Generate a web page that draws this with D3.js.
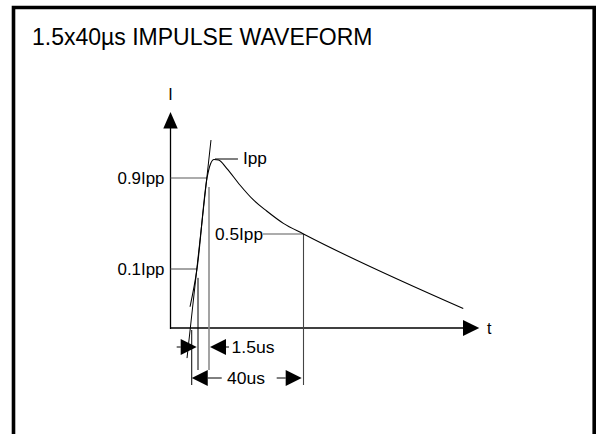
<!DOCTYPE html>
<html>
<head>
<meta charset="utf-8">
<script src="https://cdn.jsdelivr.net/npm/d3@7"></script>
<style>
  html, body { margin: 0; padding: 0; background: #fff; }
  svg { display: block; }
  text { font-family: "Liberation Sans", Arial, sans-serif; fill: #000; }
</style>
</head>
<body>
<svg id="chart" width="597" height="434"></svg>
<script>
// ---------------- data (schematic impulse waveform, time in µs, current as fraction of Ipp) ----------------
const title = "1.5x40µs IMPULSE WAVEFORM";

// waveform: rising front, rounded peak, decaying tail
const waveTime    = [-0.71, -0.09, 1.23, 2.11, 3.54, 5.37, 8.71, 14.1, 19.6, 25.0, 31.8, 40.0];
const waveCurrent = [0.036, 0.10, 0.90, 0.974, 0.997, 0.995, 0.951, 0.85, 0.743, 0.664, 0.576, 0.50];
// straight tail segment
const tailTime    = [93.4];
const tailCurrent = [0.033];

// front line through the 10% and 90% points (extended)
const frontTime    = [-0.98, 2.31];
const frontCurrent = [-0.051, 1.121];

// level marks on the current axis
const levelLabels  = ["0.9Ipp", "0.1Ipp"];
const levelValues  = [0.9, 0.1];
const levelEndTime = [1.23, -0.09];

// reference levels annotated on the curve
const peakLabel = "Ipp";
const peakTime = [3.94, 13.3];
const halfLabel = "0.5Ipp";
const halfTime = [23.5, 40.0];

// time marks (extension lines)
const virtualOrigin = -0.56;
const frontStart = 0;
const frontTimeValue = 1.5;
const halfValueTime = 40;

// dimension labels
const dimLabels = ["1.5us", "40us"];

const axisLabels = ["I", "t"];

// ---------------- scales (schematic, piecewise linear) ----------------
const x = d3.scaleLinear().domain([-2.5, 0, 1.5, 40, 100]).range([170, 198, 209, 303.5, 483]);
const y = d3.scaleLinear().domain([0, 0.1, 0.5, 0.9, 1, 1.3]).range([328, 269, 234, 178, 159, 112]);

const svg = d3.select("#chart");

// frame (open at the bottom)
svg.append("path")
  .attr("d", "M13.5,440 V7.5 H594.2 V440")
  .attr("fill", "none").attr("stroke", "#000").attr("stroke-width", 3.6);

// title
svg.append("text").attr("x", 32).attr("y", 45)
  .style("font-size", "23px").text(title);

const g = svg.append("g");
const grey = "#5a5a5a";

// axes
const x0 = x(-2.5), yAxisX = x(-2.5) + 0.5, y0 = y(0);
g.append("line").attr("x1", yAxisX).attr("x2", yAxisX).attr("y1", y0 + 1).attr("y2", y(1.3) + 14)
  .attr("stroke", "#000").attr("stroke-width", 1.3);
g.append("path")
  .attr("d", `M${yAxisX},${y(1.3)} L${yAxisX + 7.2},${y(1.3) + 16.5} L${yAxisX - 7.2},${y(1.3) + 16.5} Z`)
  .attr("fill", "#000");
g.append("line").attr("x1", x0).attr("x2", x(100) - 18).attr("y1", y0).attr("y2", y0)
  .attr("stroke", "#000").attr("stroke-width", 1.3);
g.append("path")
  .attr("d", `M${x(100) - 3.7},${y0} L${x(100) - 20},${y0 - 8} L${x(100) - 20},${y0 + 8} Z`)
  .attr("fill", "#000");
g.append("text").attr("x", yAxisX).attr("y", 100).attr("text-anchor", "middle")
  .style("font-size", "16px").text(axisLabels[0]);
g.append("text").attr("x", x(100) + 4).attr("y", y0 + 6)
  .style("font-size", "16px").text(axisLabels[1]);

// level leaders + labels
levelValues.forEach((v, i) => {
  g.append("line").attr("x1", yAxisX).attr("x2", x(levelEndTime[i]))
    .attr("y1", y(v)).attr("y2", y(v)).attr("stroke", grey).attr("stroke-width", 1.1);
  g.append("text").attr("x", yAxisX - 6).attr("y", y(v) + 6).attr("text-anchor", "end")
    .style("font-size", "16px").attr("textLength", 47).attr("lengthAdjust", "spacingAndGlyphs")
    .text(levelLabels[i]);
});

// Ipp leader
g.append("line").attr("x1", x(peakTime[0])).attr("x2", x(peakTime[1]))
  .attr("y1", y(1)).attr("y2", y(1)).attr("stroke", "#000").attr("stroke-width", 1);
g.append("text").attr("x", x(peakTime[1]) + 5).attr("y", y(1) + 5)
  .style("font-size", "16px").attr("textLength", 24).attr("lengthAdjust", "spacingAndGlyphs")
  .text(peakLabel);

// 0.5 Ipp leader
g.append("line").attr("x1", x(halfTime[0])).attr("x2", x(halfTime[1]))
  .attr("y1", y(0.5)).attr("y2", y(0.5)).attr("stroke", grey).attr("stroke-width", 1.1);
g.append("text").attr("x", x(halfTime[0])).attr("y", y(0.5) + 6).attr("text-anchor", "end")
  .style("font-size", "16px").attr("textLength", 48).attr("lengthAdjust", "spacingAndGlyphs")
  .text(halfLabel);

// extension lines
g.append("line").attr("x1", x(virtualOrigin)).attr("x2", x(virtualOrigin))
  .attr("y1", y0 + 2).attr("y2", 385).attr("stroke", "#000").attr("stroke-width", 1);
g.append("line").attr("x1", x(frontStart)).attr("x2", x(frontStart))
  .attr("y1", y(0.085)).attr("y2", 370).attr("stroke", "#000").attr("stroke-width", 1);
g.append("line").attr("x1", x(frontTimeValue)).attr("x2", x(frontTimeValue))
  .attr("y1", y(0.836)).attr("y2", 370).attr("stroke", "#8c8c8c").attr("stroke-width", 1.6);
g.append("line").attr("x1", x(halfValueTime)).attr("x2", x(halfValueTime))
  .attr("y1", y(0.5)).attr("y2", 385).attr("stroke", "#444").attr("stroke-width", 1.1);

// front line
const line = d3.line().x(d => x(d[0])).y(d => y(d[1]));
g.append("path").datum(d3.zip(frontTime, frontCurrent)).attr("d", line)
  .attr("fill", "none").attr("stroke", "#000").attr("stroke-width", 1);

// waveform (front, peak, decay and tail as one smooth path)
const wave = d3.zip(waveTime.concat(tailTime), waveCurrent.concat(tailCurrent));
g.append("path").datum(wave)
  .attr("d", d3.line().x(d => x(d[0])).y(d => y(d[1])).curve(d3.curveMonotoneX))
  .attr("fill", "none").attr("stroke", "#000").attr("stroke-width", 1.1);

// dimension arrows
function arrow(tipX, cy, dir, tail) {
  // dir = +1 pointing right, -1 pointing left
  const len = 16, half = 8;
  g.append("path")
    .attr("d", `M${tipX},${cy} L${tipX - dir * len},${cy - half} L${tipX - dir * len},${cy + half} Z`)
    .attr("fill", "#000");
  g.append("line").attr("x1", tipX - dir * len).attr("x2", tipX - dir * (len + tail))
    .attr("y1", cy).attr("y2", cy).attr("stroke", "#000").attr("stroke-width", 1);
}
// 1.5us dimension
const d1y = 347;
arrow(x(frontStart) - 1.3, d1y, +1, 4);
arrow(x(frontTimeValue) + 1, d1y, -1, 3);
g.append("text").attr("x", x(frontTimeValue) + 22.5).attr("y", d1y + 6)
  .style("font-size", "16px").attr("textLength", 43).attr("lengthAdjust", "spacingAndGlyphs")
  .text(dimLabels[0]);
// 40us dimension
const d2y = 378;
arrow(x(virtualOrigin), d2y, -1, 14);
arrow(x(halfValueTime) - 1.8, d2y, +1, 9);
g.append("text").attr("x", 227).attr("y", d2y + 6)
  .style("font-size", "16px").attr("textLength", 38).attr("lengthAdjust", "spacingAndGlyphs")
  .text(dimLabels[1]);
</script>
</body>
</html>
